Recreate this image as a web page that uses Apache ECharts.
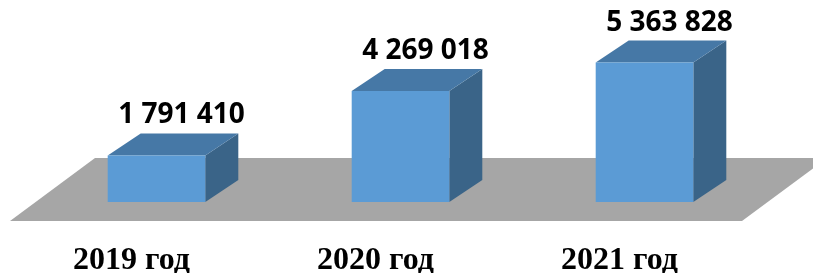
<!DOCTYPE html>
<html>
<head>
<meta charset="utf-8">
<script src="https://cdn.jsdelivr.net/npm/echarts@6/dist/echarts.min.js"></script>
<style>
	html, body { margin: 0; padding: 0; background: #fff; }
	#chart { width: 813px; height: 273px; }
</style>
</head>
<body>
<div id="chart"></div>
<script>
	var years = ['2019 год', '2020 год', '2021 год'];
	var values = [1791410, 4269018, 5363828];
	var valueLabels = ['1 791 410', '4 269 018', '5 363 828'];

	// 3d depth of bars
	var DX = 33, DY = -22;

	function renderFloor(params, api) {
		var cs = params.coordSys;
		var base = cs.y + cs.height;
		var left = cs.x - 24.5, right = cs.x + cs.width - 24.5;
		return {
			type: 'polygon',
			shape: {
				points: [
					[left, base + 19], [right, base + 19],
					[right + 85, base - 44], [left + 85, base - 44]
				]
			},
			style: { fill: '#a6a6a6' }
		};
	}

	function renderBar(params, api) {
		var base = api.coord([api.value(0), 0]);
		var top = api.coord([api.value(0), api.value(1)]);
		var w = api.size([1, 0])[0] * 0.4;
		var x0 = base[0] - w / 2, x1 = base[0] + w / 2;
		var yt = top[1], yb = base[1];
		return {
			type: 'group',
			children: [{
				type: 'polygon',
				shape: { points: [[x1, yt], [x1 + DX, yt + DY], [x1 + DX, yb + DY], [x1, yb]] },
				style: { fill: '#3a6488' }
			}, {
				type: 'polygon',
				shape: { points: [[x0, yt], [x0 + DX, yt + DY], [x1 + DX, yt + DY], [x1, yt]] },
				style: { fill: '#4678a6' }
			}, {
				type: 'rect',
				shape: { x: x0, y: yt, width: w, height: yb - yt },
				style: { fill: '#5b9bd5' }
			}, {
				type: 'text',
				x: base[0] + 25,
				y: yt + DY - 18,
				style: {
					text: valueLabels[params.dataIndex],
					font: 'bold 28px "Open Sans"',
					fill: '#000',
					align: 'center',
					verticalAlign: 'middle'
				}
			}]
		};
	}

	var myChart = echarts.init(document.getElementById('chart'));
	var option = {
		animation: false,
		grid: { left: 34.5, width: 732, top: 46, bottom: 71, outerBoundsMode: 'none' },
		xAxis: {
			type: 'category',
			data: years,
			axisLine: { show: false },
			axisTick: { show: false },
			axisLabel: {
				margin: 43,
				fontFamily: 'Liberation Serif',
				fontWeight: 'bold',
				fontSize: 32,
				lineHeight: 32,
				color: '#000',
				padding: [0, 50, 0, 0]
			}
		},
		yAxis: {
			type: 'value',
			min: 0,
			max: 6000000,
			show: false,
			splitLine: { show: false }
		},
		series: [{
			type: 'custom',
			renderItem: renderFloor,
			data: [[0, 0]],
			silent: true,
			z: 1
		}, {
			type: 'custom',
			renderItem: renderBar,
			data: values.map(function (v, i) { return [i, v]; }),
			z: 2
		}]
	};
	myChart.setOption(option);
</script>
</body>
</html>
